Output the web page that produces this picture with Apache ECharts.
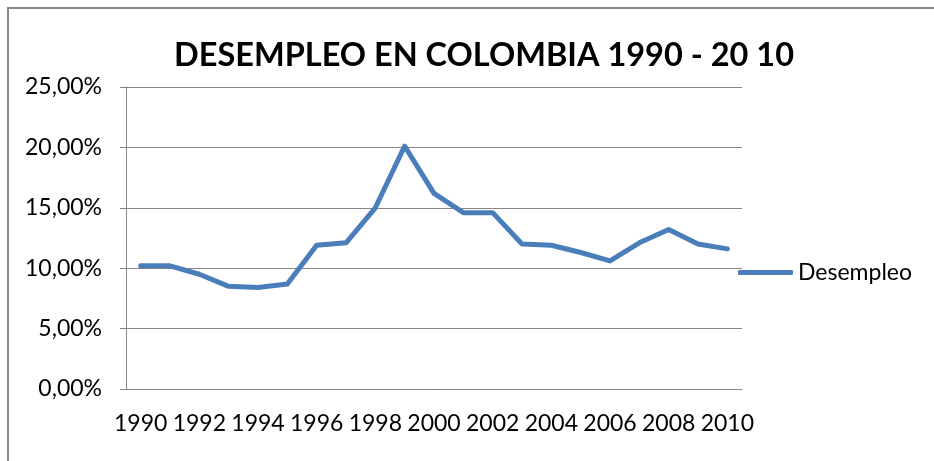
<!DOCTYPE html>
<html>
<head>
<meta charset="utf-8">
<title>Desempleo en Colombia</title>
<script src="https://cdn.jsdelivr.net/npm/echarts@6/dist/echarts.min.js"></script>
<style>
    html, body { margin: 0; padding: 0; background: #fff; }
    #chart { position: absolute; left: 0; top: 0; width: 934px; height: 461px; }
    #frame {
        position: absolute; left: 7px; top: 7px; width: 940px; height: 470px;
        border-left: 2px solid #8a8a8a; border-top: 2px solid #8a8a8a;
        pointer-events: none;
    }
</style>
</head>
<body>
<div id="chart"></div>
<div id="frame"></div>
<script>
// datos
const years = ['1990', '1991', '1992', '1993', '1994', '1995', '1996', '1997', '1998', '1999', '2000',
               '2001', '2002', '2003', '2004', '2005', '2006', '2007', '2008', '2009', '2010'];
const desempleo = [10.2, 10.2, 9.5, 8.5, 8.4, 8.7, 11.9, 12.1, 15.0, 20.1, 16.2,
                   14.6, 14.6, 12.0, 11.9, 11.3, 10.6, 12.1, 13.2, 12.0, 11.6];
const yTicks = [0, 5, 10, 15, 20, 25];

document.addEventListener('DOMContentLoaded', function() {
    initChart();
});

function initChart() {
    const chart = echarts.init(document.getElementById('chart'));
    const gray = '#868686';

    const option = {
        animation: false,
        textStyle: {
            fontFamily: 'Lato'
        },
        title: {
            text: 'DESEMPLEO EN COLOMBIA 1990 - 20 10',
            left: 479,
            top: 34,
            textAlign: 'center',
            textStyle: {
                fontFamily: 'Lato',
                fontWeight: 'bold',
                fontSize: 32.5,
                color: '#000'
            }
        },
        legend: {
            data: ['Desempleo'],
            left: 738,
            top: 261,
            padding: 0,
            icon: 'roundRect',
            itemWidth: 55,
            itemHeight: 5,
            textStyle: {
                fontFamily: 'Lato',
                fontSize: 23,
                color: '#000'
            }
        },
        grid: {
            left: 126,
            right: 192,
            top: 87,
            bottom: 72
        },
        xAxis: {
            type: 'category',
            data: years,
            boundaryGap: true,
            axisLine: { lineStyle: { color: gray, width: 1 } },
            axisTick: {
                interval: 0,
                length: 6,
                lineStyle: { color: gray }
            },
            axisLabel: {
                interval: 1,
                margin: 23,
                fontSize: 23,
                color: '#000'
            }
        },
        yAxis: {
            type: 'value',
            min: yTicks[0],
            max: yTicks[yTicks.length - 1],
            interval: 5,
            axisLine: { show: true, lineStyle: { color: gray, width: 1 } },
            axisTick: {
                show: true,
                length: 6,
                lineStyle: { color: gray }
            },
            axisLabel: {
                margin: 24,
                fontSize: 23,
                color: '#000',
                formatter: function(v) {
                    return v.toFixed(2).replace('.', ',') + '%';
                }
            },
            splitLine: { lineStyle: { color: gray, width: 1 } }
        },
        series: [{
            name: 'Desempleo',
            type: 'line',
            data: desempleo,
            symbol: 'none',
            itemStyle: { color: '#4A7EBB' },
            lineStyle: {
                color: '#4A7EBB',
                width: 5,
                cap: 'round',
                join: 'round'
            }
        }]
    };

    chart.setOption(option);

    window.addEventListener('resize', function() {
        chart.resize();
    });
}
</script>
</body>
</html>
